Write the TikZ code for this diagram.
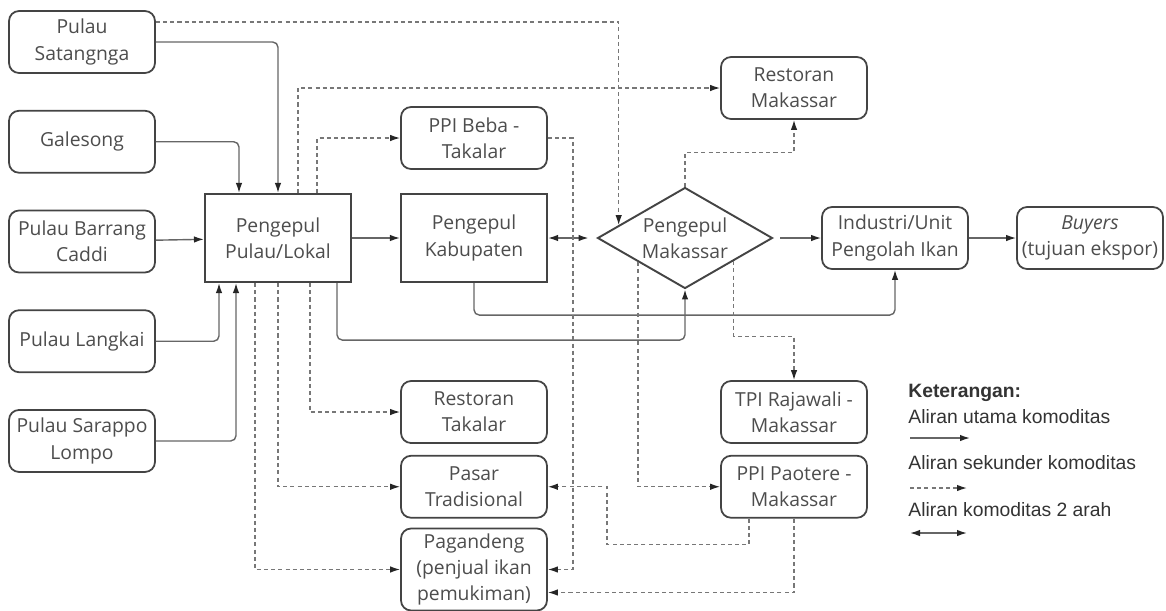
\documentclass[tikz,border=0pt]{standalone}
\usepackage{fontspec}
\setmainfont{Open Sans}
\newfontfamily\legendfont{Liberation Sans}
\usepackage{tikz}
\usetikzlibrary{arrows.meta,positioning,calc,shapes.geometric}

\definecolor{boxgray}{HTML}{444444}
\definecolor{txtgray}{HTML}{4D4D4D}
\definecolor{linegray}{HTML}{666666}
\definecolor{dashgray}{HTML}{777777}

\begin{document}
\begin{tikzpicture}[
    x=0.02cm, y=-0.02cm,
    node distance=0.72cm,
    box/.style={draw=boxgray, line width=1pt, rounded corners=0.2cm, fill=white,
                minimum width=2.92cm, minimum height=1.24cm, inner sep=1pt,
                font=\fontsize{11}{15}\selectfont, text=txtgray, align=center},
    sqbox/.style={draw=boxgray, line width=1.2pt, fill=white,
                  minimum width=2.92cm, minimum height=1.76cm,
                  font=\fontsize{11}{15}\selectfont, text=txtgray, align=center},
    dmd/.style={diamond, draw=boxgray, line width=1.1pt, aspect=1.73, inner sep=0pt,
                minimum width=3.5cm, minimum height=2.02cm,
                font=\fontsize{11}{15}\selectfont, text=txtgray, align=center},
    arr/.style={draw=linegray, line width=0.8pt, rounded corners=3pt,
                -{Latex[length=2mm, width=1.3mm, color=black!85]}},
    sec/.style={draw=dashgray, line width=0.75pt, dash pattern=on 2.3pt off 1.8pt,
                -{Latex[length=2mm, width=1.3mm, color=black!85]}},
    twoway/.style={draw=linegray, line width=0.8pt,
                   {Latex[length=2mm, width=1.3mm, color=black!85]}-{Latex[length=2mm, width=1.3mm, color=black!85]}},
    lgd/.style={anchor=west, inner sep=0pt, font=\legendfont\fontsize{11}{13}\selectfont, text=black!80}
]
    \useasboundingbox (0,0) rectangle (1166,610);

    \node[box] (sat) at (82,42) {Pulau\\Satangnga};
    \node[box, below=of sat] (gal) {Galesong};
    \node[box, below=of gal] (bar) {Pulau Barrang\\Caddi};
    \node[box, below=of bar] (lan) {Pulau Langkai};
    \node[box, below=of lan] (sar) {Pulau Sarappo\\Lompo};

    \node[sqbox] (pul) at (278,238) {Pengepul\\Pulau/Lokal};
    \node[sqbox] (kab) at (474,238) {Pengepul\\Kabupaten};
    \node[dmd] (mak) at (685,238) {Pengepul\\Makassar};
    \node[box] (ind) at (895,238) {Industri/Unit\\Pengolah Ikan};
    \node[box] (buy) at (1090,238) {\textit{Buyers}\\(tujuan ekspor)};

    \node[box] (rmak) at (794,88) {Restoran\\Makassar};
    \node[box] (beba) at (474,138) {PPI Beba -\\Takalar};

    \node[box] (rtak) at (474,412) {Restoran\\Takalar};
    \node[box, below=0.22cm of rtak] (pasar) {Pasar\\Tradisional};
    \node[box, below=0.18cm of pasar, minimum height=1.64cm] (pag) {Pagandeng\\(penjual ikan\\pemukiman)};
    \node[box] (tpi) at (794,412) {TPI Rajawali -\\Makassar};
    \node[box, below=0.22cm of tpi] (pao) {PPI Paotere -\\Makassar};

    \node[lgd] (ket) at (908,393) {\bfseries Keterangan:};
    \node[lgd] (lg1) at (908,417) {Aliran utama komoditas};
    \node[lgd] (lg2) at (908,463) {Aliran sekunder komoditas};
    \node[lgd] (lg3) at (908,510) {Aliran komoditas 2 arah};
    \coordinate (a1) at (910,438);
    \coordinate (b1) at (970,438);
    \coordinate (a2) at (910,488);
    \coordinate (b2) at (967,488);
    \coordinate (a3) at (910,533);
    \coordinate (b3) at (967,533);

    \draw[arr] (sat.east) -| (pul.north);
    \draw[arr] (gal.east) -| ([xshift=-0.78cm]pul.north);
    \draw[arr] (bar) -- (pul);
    \draw[arr] (lan.east) -| ([xshift=-1.18cm]pul.south);
    \draw[arr] (sar.east) -| ([xshift=-0.84cm]pul.south);
    \draw[arr] (pul) -- (kab);
    \draw[twoway] (kab.east) -- ([xshift=-0.16cm]mak.west);
    \draw[arr] ([xshift=0.14cm]mak.east) -- (ind.west);
    \draw[arr] (ind) -- (buy);
    \draw[arr] (kab.south) -- ++(0,32) -| (ind.south);
    \draw[arr] ([xshift=1.18cm]pul.south) -- ++(0,57) -| (mak.south);

    \draw[sec] ([yshift=0.4cm]sat.east) -| ($(mak.west)!0.25!(mak.north)$);
    \draw[sec] ([xshift=0.4cm]pul.north) |- (rmak.west);
    \draw[sec] ([xshift=0.78cm]pul.north) |- (beba.west);
    \draw[sec] (beba.east) -- ++(25,0) |- (pag.east);
    \draw[sec] (mak.north) -- ++(0,-34) -| (rmak.south);
    \draw[sec] ($(mak.west)!0.47!(mak.south)$) |- (pao.west);
    \draw[sec] ($(mak.east)!0.45!(mak.south)$) -- ++(0,75) -| (tpi.north);
    \draw[sec] ([xshift=0.64cm]pul.south) |- (rtak.west);
    \draw[sec] (pul.south) |- (pasar.west);
    \draw[sec] ([xshift=-0.46cm]pul.south) |- (pag.west);
    \draw[sec] ([xshift=-0.9cm]pao.south) -- ++(0,26) -| ($(pasar.east)+(59,0)$) -- (pasar.east);
    \draw[sec] (pao.south) |- ([yshift=-0.46cm]pag.east);

    \draw[arr] (a1) -- (b1);
    \draw[sec] (a2) -- (b2);
    \draw[twoway] (a3) -- (b3);
\end{tikzpicture}
\end{document}
